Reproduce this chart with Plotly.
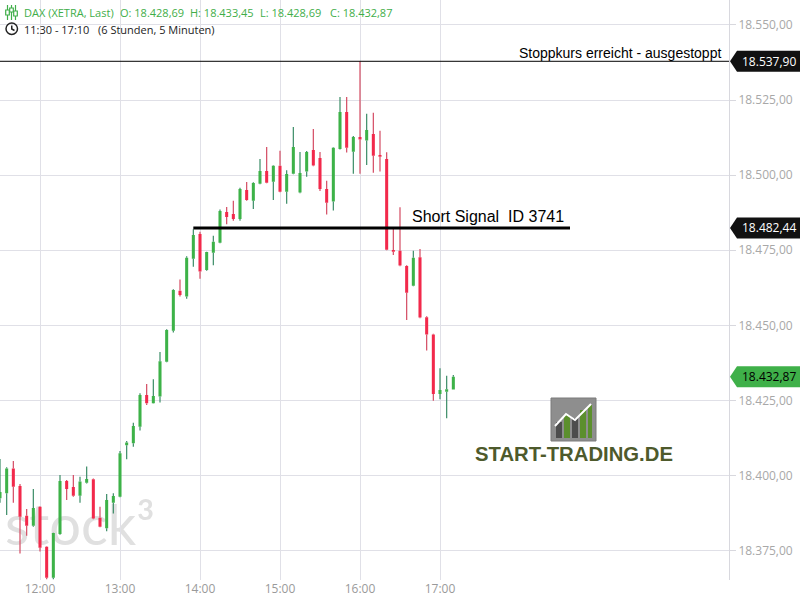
import plotly.graph_objects as go
import pandas as pd

# ---------------- data ----------------
day = "2024-05-24"
times = pd.date_range(f"{day} 11:30", periods=69, freq="5min")

opens = [18392.5, 18394.1, 18402.4, 18396.5, 18386.6, 18383.3, 18389.6, 18376.3, 18366.0, 18380.6,
         18398.2, 18396.2, 18393.3, 18397.6, 18398.8, 18386.0, 18382.5, 18391.0, 18393.0, 18410.1,
         18410.8, 18416.3, 18426.8, 18424.1, 18426.3, 18437.9, 18448.2, 18461.5, 18459.6, 18472.2,
         18480.4, 18468.4, 18474.2, 18477.5, 18487.7, 18487.1, 18485.4, 18495.1, 18491.5, 18497.1,
         18501.4, 18497.8, 18503.1, 18494.5, 18500.5, 18494.2, 18501.2, 18508.4, 18505.7, 18495.4,
         18491.2, 18508.7, 18521.0, 18507.8, 18512.7, 18511.5, 18513.7, 18506.7, 18505.4, 18475.1,
         18474.8, 18469.8, 18463.2, 18472.7, 18452.7, 18447.0, 18427.2, 18427.9, 18428.69]
highs = [18405.5, 18402.8, 18404.9, 18397.2, 18388.9, 18395.5, 18389.8, 18376.5, 18381.0, 18400.2,
         18398.5, 18400.2, 18399.6, 18403.0, 18399.0, 18389.6, 18393.9, 18394.1, 18408.2, 18411.5,
         18417.6, 18427.4, 18430.5, 18432.1, 18441.1, 18448.7, 18462.0, 18465.3, 18473.0, 18482.0,
         18481.2, 18474.5, 18479.8, 18488.6, 18489.4, 18491.5, 18495.8, 18497.7, 18497.6, 18505.4,
         18509.4, 18503.3, 18508.1, 18501.6, 18516.0, 18507.7, 18508.0, 18515.4, 18507.7, 18498.1,
         18509.3, 18526.0, 18526.0, 18513.0, 18537.9, 18520.4, 18520.8, 18514.8, 18507.6, 18482.7,
         18489.3, 18470.0, 18474.8, 18475.4, 18453.0, 18447.2, 18435.7, 18433.2, 18433.45]
lows = [18391.0, 18386.9, 18391.0, 18374.1, 18380.0, 18383.0, 18374.7, 18365.5, 18365.5, 18380.3,
        18391.9, 18393.0, 18391.0, 18397.4, 18385.5, 18382.8, 18381.5, 18387.4, 18392.8, 18405.4,
        18409.6, 18415.0, 18423.5, 18424.0, 18424.3, 18437.7, 18447.6, 18459.6, 18458.9, 18469.5,
        18465.5, 18468.2, 18470.0, 18477.3, 18483.7, 18484.8, 18484.8, 18491.5, 18488.7, 18497.0,
        18497.3, 18491.7, 18494.3, 18490.5, 18500.3, 18494.0, 18499.5, 18503.0, 18494.7, 18486.9,
        18488.2, 18508.5, 18507.5, 18500.5, 18500.5, 18503.4, 18500.8, 18501.2, 18475.0, 18473.4,
        18469.7, 18451.8, 18463.0, 18452.4, 18441.6, 18424.9, 18425.4, 18419.1, 18428.69]
closes = [18394.5, 18402.4, 18396.3, 18386.3, 18383.3, 18389.2, 18376.0, 18366.0, 18380.9, 18398.2,
          18395.5, 18393.3, 18398.0, 18398.9, 18385.7, 18383.0, 18391.9, 18393.2, 18407.4, 18411.0,
          18416.5, 18426.8, 18424.1, 18426.5, 18438.1, 18448.5, 18461.8, 18460.1, 18472.5, 18480.1,
          18467.9, 18474.4, 18477.8, 18488.1, 18486.1, 18485.4, 18495.4, 18491.7, 18497.4, 18501.4,
          18497.5, 18503.1, 18494.5, 18500.4, 18509.4, 18500.7, 18507.7, 18503.2, 18495.4, 18490.8,
          18509.1, 18521.0, 18509.1, 18512.7, 18511.9, 18515.0, 18506.5, 18506.1, 18475.2, 18474.5,
          18469.9, 18460.9, 18472.5, 18452.6, 18447.0, 18427.2, 18428.5, 18428.7, 18432.87]

tick_vals = [f"{day} 12:00", f"{day} 13:00", f"{day} 14:00", f"{day} 15:00", f"{day} 16:00", f"{day} 17:00"]
tick_text = ["12:00", "13:00", "14:00", "15:00", "16:00", "17:00"]

stop_price = 18537.90
signal_price = 18482.44
last_price = 18432.87
signal_start = f"{day} 13:55"
signal_end = f"{day} 18:37:30"

header_parts = ["DAX (XETRA, Last)", "O: 18.428,69", "H: 18.433,45", "L: 18.428,69", "C: 18.432,87"]
period_parts = ["11:30 - 17:10", "(6 Stunden, 5 Minuten)"]
stop_text = "Stoppkurs erreicht - ausgestoppt"
signal_text = "Short Signal\u00a0 ID 3741"

# ---------------- style ----------------
GREEN = "#3db248"
RED = "#f2294b"
GREEN_WICK = "#3a8c66"
RED_WICK = "#d44a62"
GRID = "#e0e0e7"
PLOT_W = 729.0
PLOT_H = 580.0


def px(x):
    return x / PLOT_W


def py(y):
    return 1 - y / PLOT_H


def wicks(up):
    xs, ys = [], []
    for t, o, h, l, c in zip(times, opens, highs, lows, closes):
        if (c >= o) == up:
            top, bot = max(o, c), min(o, c)
            xs += [t, t, None, t, t, None]
            ys += [h, top, None, bot, l, None]
    return xs, ys


fig = go.Figure()
for up, col in [(True, GREEN_WICK), (False, RED_WICK)]:
    wx, wy = wicks(up)
    fig.add_trace(go.Scatter(x=wx, y=wy, mode="lines", line=dict(color=col, width=1.2),
                             hoverinfo="skip", showlegend=False))

fig.add_trace(go.Candlestick(
    x=times, open=opens, high=highs, low=lows, close=closes,
    increasing=dict(fillcolor=GREEN, line=dict(color=GREEN, width=0)),
    decreasing=dict(fillcolor=RED, line=dict(color=RED, width=0)),
    whiskerwidth=0, hoverinfo="skip", showlegend=False))

shapes = []
annotations = []

# watermark stock3 (between grid and traces)
shapes.append(dict(type="rect", xref="paper", yref="paper", x0=px(0), x1=px(160), y0=py(552), y1=py(492),
                   line=dict(width=0), fillcolor="rgba(0,0,0,0)", layer="between",
                   label=dict(text="stock³", font=dict(family="Lato", size=56, color="#e0e0e0"),
                              textposition="middle center")))

# soft white glow behind the START-TRADING logo
shapes.append(dict(type="rect", xref="paper", yref="paper", x0=px(468), x1=px(700), y0=py(470), y1=py(392),
                   line=dict(width=0), fillcolor="rgba(255,255,255,0.8)", layer="between"))

# stop line and signal line
shapes.append(dict(type="line", xref="paper", yref="y", x0=0, x1=1, y0=stop_price, y1=stop_price,
                   line=dict(color="#000000", width=1)))
shapes.append(dict(type="line", xref="x", yref="y", x0=signal_start, x1=signal_end,
                   y0=signal_price, y1=signal_price, line=dict(color="#000000", width=3)))

# price labels on axis
for price, bg, fg in [(stop_price, "#111111", "#ffffff"), (signal_price, "#111111", "#ffffff"),
                      (last_price, "#3fb049", "#000000")]:
    shapes.append(dict(type="path", xref="paper", yref="y", xsizemode="pixel", ysizemode="pixel",
                       xanchor=1, yanchor=price,
                       path="M1,0 L8,10.5 L71,10.5 L71,-10.5 L8,-10.5 Z",
                       fillcolor=bg, line=dict(width=0)))
    annotations.append(dict(xref="paper", yref="y", x=1, y=price, xshift=39.5, showarrow=False,
                            text=f"{price:,.2f}".replace(",", "X").replace(".", ",").replace("X", "."),
                            font=dict(family="Open Sans", size=12, color=fg),
                            xanchor="center", yanchor="middle"))

# header (white background box, then text groups)
shapes.append(dict(type="rect", xref="paper", yref="paper", x0=0, x1=px(400), y0=py(38), y1=py(0),
                   line=dict(width=0), fillcolor="#ffffff", layer="between"))
for xpos, txt in zip([22, 118, 188, 258, 328], header_parts):
    annotations.append(dict(xref="paper", yref="paper", x=px(xpos), y=py(12.5), text=txt, showarrow=False,
                            xanchor="left", yanchor="middle",
                            font=dict(family="Open Sans", size=11, color="#3fae49")))
for xpos, txt in zip([22, 96], period_parts):
    annotations.append(dict(xref="paper", yref="paper", x=px(xpos), y=py(29), text=txt, showarrow=False,
                            xanchor="left", yanchor="middle",
                            font=dict(family="Open Sans", size=11, color="#222222")))
# header icons
for xi, (ya, yb, ra, rb) in zip([7.5, 11.5, 15.5], [(5, 20, 10, 15), (5, 20, 8, 12), (5, 20, 11, 16)]):
    shapes.append(dict(type="line", xref="paper", yref="paper", x0=px(xi), x1=px(xi), y0=py(ya), y1=py(yb),
                       line=dict(color="#3fae49", width=1.2)))
    shapes.append(dict(type="rect", xref="paper", yref="paper", x0=px(xi - 1.8), x1=px(xi + 1.8),
                       y0=py(ra), y1=py(rb), line=dict(color="#3fae49", width=1.2), fillcolor="#ffffff"))
shapes.append(dict(type="circle", xref="paper", yref="paper", x0=px(6), x1=px(17.5), y0=py(23), y1=py(34.5),
                   line=dict(color="#222222", width=1.5)))
shapes.append(dict(type="path", xref="paper", yref="paper",
                   path=f"M{px(11.75)},{py(25.5)} L{px(11.75)},{py(29)} L{px(14.5)},{py(30.5)}",
                   line=dict(color="#222222", width=1.5)))

# annotation texts
annotations.append(dict(xref="paper", yref="paper", x=px(723), y=py(52.5), text=stop_text, showarrow=False,
                        xanchor="right", yanchor="middle",
                        font=dict(family="Liberation Sans", size=14, color="#000000")))
annotations.append(dict(xref="paper", yref="paper", x=px(410), y=py(216), text=signal_text, showarrow=False,
                        xanchor="left", yanchor="middle",
                        font=dict(family="Liberation Sans", size=16, color="#000000")))

# START-TRADING.DE logo
shapes.append(dict(type="rect", xref="paper", yref="paper", x0=px(551), x1=px(596), y0=py(441), y1=py(398),
                   line=dict(color="#7a7a7a", width=1), fillcolor="#8e8e8e"))
for (x0, x1, ytop, col) in [(556, 562, 422, "#4d4d4d"), (564, 570, 415, "#5c8f2d"),
                            (572, 578, 418, "#4d4d4d"), (580, 586, 410, "#5c8f2d"), (588, 592, 405, "#5c8f2d")]:
    shapes.append(dict(type="rect", xref="paper", yref="paper", x0=px(x0), x1=px(x1), y0=py(438), y1=py(ytop),
                       line=dict(width=0), fillcolor=col))
shapes.append(dict(type="path", xref="paper", yref="paper",
                   path=f"M{px(555)},{py(426)} L{px(566)},{py(414)} L{px(575)},{py(420)} L{px(591)},{py(404)}",
                   line=dict(color="#ffffff", width=2)))
annotations.append(dict(xref="paper", yref="paper", x=px(573.5), y=py(454), text="<b>START-TRADING.DE</b>",
                        showarrow=False, xanchor="center", yanchor="middle",
                        font=dict(family="Liberation Sans", size=20.3, color="#4e5a2c")))

fig.update_layout(
    width=800, height=600,
    margin=dict(l=0, r=71, t=0, b=20),
    paper_bgcolor="#ffffff", plot_bgcolor="#ffffff",
    separators=",.",
    showlegend=False, hovermode=False,
    boxgap=0.35,
    shapes=shapes, annotations=annotations,
    xaxis=dict(type="date", range=[f"{day} 11:30", f"{day} 20:36:45"],
               tickvals=tick_vals, ticktext=tick_text,
               showgrid=True, gridcolor=GRID, gridwidth=1, zeroline=False, showline=False,
               ticks="", tickfont=dict(family="Open Sans", size=12, color="#9a9a9a"),
               rangeslider=dict(visible=False), fixedrange=True),
    yaxis=dict(side="right", range=[18365.25, 18558.3], dtick=25, tick0=18375, tickformat=",.2f",
               showgrid=True, gridcolor=GRID, gridwidth=1, zeroline=False,
               showline=True, linecolor="#d8d8de", linewidth=1,
               ticks="outside", ticklen=6, tickcolor="#d8d8de",
               tickfont=dict(family="Open Sans", size=12, color="#a8a8a8"), fixedrange=True),
)

fig.write_html("out.html", config={"displayModeBar": False},
               post_script="document.body.style.margin='0';document.body.style.padding='0';")
